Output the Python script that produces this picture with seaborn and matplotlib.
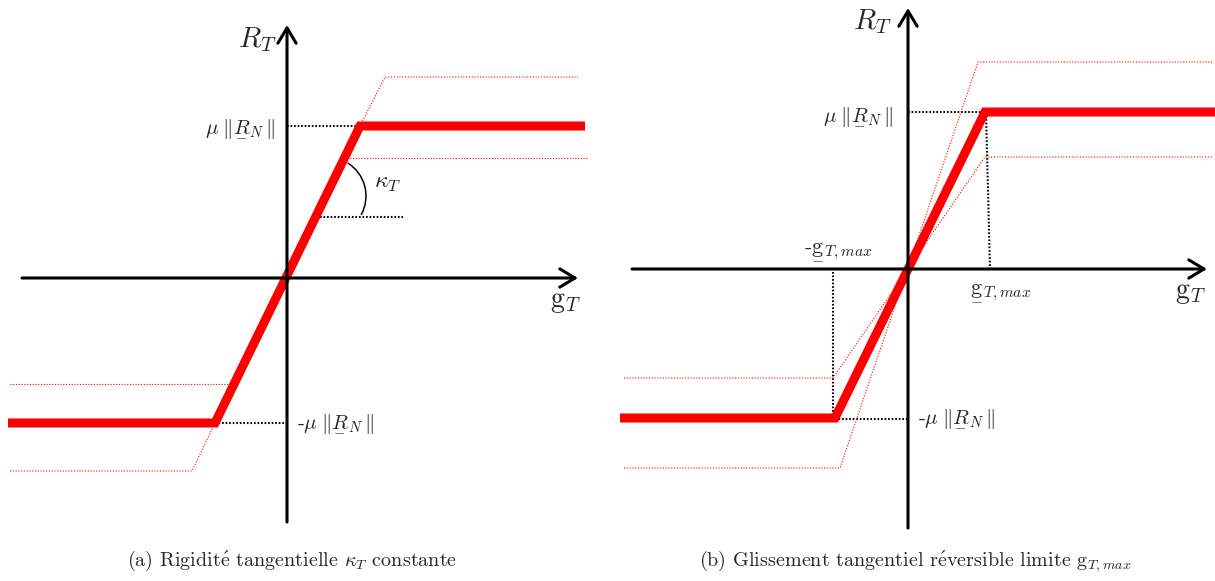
"""
Tangential contact laws: constant stiffness vs. limited reversible slip.
"""
import matplotlib
matplotlib.use("Agg")
import matplotlib.pyplot as plt
from matplotlib.patches import Arc
import seaborn as sns

sns.set_theme(style="white")
plt.rcParams["font.family"] = ["cmr10", "DejaVu Serif"]
plt.rcParams["mathtext.fontset"] = "cm"
plt.rcParams["axes.unicode_minus"] = False
plt.rcParams["axes.formatter.use_mathtext"] = True

# ---- panel (a): constant tangential stiffness (units = px from origin) ----
a_axis_x = [-265, 291]
a_axis_y = [-244, 253]
a_law_x = [-279, -72, 73, 298]
a_law_y = [-145, -145, 152, 152]
a_hi_up_x = [73, 98, 291]
a_hi_up_y = [152, 201, 201]
a_hi_lo_x = [60, 301]
a_hi_lo_y = [120, 120]
a_lo_up_x = [-277, -54]
a_lo_up_y = [-106, -106]
a_lo_lo_x = [-277, -95, -72]
a_lo_lo_y = [-193, -193, -145]
a_ref_x = [[0, 73], [-72, 0], [33, 118]]
a_ref_y = [[152, 152], [-145, -145], [61, 61]]
a_arc_center = (40, 82)
a_arc_radius = 39
a_arc_angles = (-29, 58)

# ---- panel (b): limited reversible slip ----
b_axis_x = [-276, 299]
b_axis_y = [-259, 261]
b_law_x = [-288, -73, 77, 307]
b_law_y = [-149, -149, 157, 157]
b_steep_x = [-284, -68, 70, 305]
b_steep_y = [-199, -199, 207, 207]
b_soft_x = [-284, -75, 77, 305]
b_soft_y = [-109, -109, 112, 112]
b_ref_x = [[0, 77], [78, 82], [-75, -75], [-73, 0]]
b_ref_y = [[157, 157], [157, 0], [-3, -149], [-150, -150]]

RED = "#ff0000"
THIN = dict(color=RED, lw=0.8, linestyle=(0, (1, 1.5)))
REF = dict(color="black", lw=1.5, linestyle=(0, (0.8, 0.9)))

MU_RN = r"$\mu\;\Vert\underset{-}{R}_N\,\Vert$"
G_MAX = r"$\underset{-}{\mathrm{g}}_{T,max}$"
E_ACUTE = r"$\mathrm{\acute{e}}$"


def _line(ax, x, y, **kw):
    sns.lineplot(x=x, y=y, sort=False, estimator=None, ax=ax, **kw)


def _axes_arrows(ax, ax_x, ax_y):
    props = dict(arrowstyle="->,head_length=0.55,head_width=0.33",
                 lw=2.2, color="black", shrinkA=0, shrinkB=0,
                 mutation_scale=20)
    ax.annotate("", xy=(ax_x[1], 0), xytext=(ax_x[0], 0), arrowprops=props)
    ax.annotate("", xy=(0, ax_y[1]), xytext=(0, ax_y[0]), arrowprops=props)


fig = plt.figure(figsize=(12.15, 5.81), dpi=100)
H = 581.0
ax_a = fig.add_axes([0, 41 / H, 600 / 1215, 540 / H])
ax_b = fig.add_axes([605 / 1215, 41 / H, 610 / 1215, 540 / H])
ax_a.set_xlim(-287, 313)
ax_a.set_ylim(-262, 278)
ax_b.set_xlim(-303, 307)
ax_b.set_ylim(-271, 269)

# panel (a)
_axes_arrows(ax_a, a_axis_x, a_axis_y)
for xs, ys in zip(a_ref_x, a_ref_y):
    _line(ax_a, xs, ys, **REF)
for xs, ys in [(a_hi_up_x, a_hi_up_y), (a_hi_lo_x, a_hi_lo_y),
               (a_lo_up_x, a_lo_up_y), (a_lo_lo_x, a_lo_lo_y)]:
    _line(ax_a, xs, ys, **THIN)
_line(ax_a, a_law_x, a_law_y, color=RED, lw=6.5,
      solid_joinstyle="miter", solid_capstyle="butt")
ax_a.add_patch(Arc(a_arc_center, 2 * a_arc_radius, 2 * a_arc_radius,
                   theta1=a_arc_angles[0], theta2=a_arc_angles[1],
                   color="black", lw=1.1))
ax_a.text(-30, 238, r"$R_T$", fontsize=21, ha="center", va="center")
ax_a.text(278, -24, r"$\mathrm{g}_T$", fontsize=20, ha="center", va="center")
ax_a.text(-12, 150, MU_RN, fontsize=15, ha="right", va="center")
ax_a.text(10, -145, "-" + MU_RN, fontsize=15, ha="left", va="center")
ax_a.text(101, 95, r"$\kappa_T$", fontsize=17, ha="center", va="center")

# panel (b)
_axes_arrows(ax_b, b_axis_x, b_axis_y)
for xs, ys in zip(b_ref_x, b_ref_y):
    _line(ax_b, xs, ys, **REF)
for xs, ys in [(b_steep_x, b_steep_y), (b_soft_x, b_soft_y)]:
    _line(ax_b, xs, ys, **THIN)
_line(ax_b, b_law_x, b_law_y, color=RED, lw=6.5,
      solid_joinstyle="miter", solid_capstyle="butt")
ax_b.text(-36, 247, r"$R_T$", fontsize=21, ha="center", va="center")
ax_b.text(282, -24, r"$\mathrm{g}_T$", fontsize=20, ha="center", va="center")
ax_b.text(-15, 153, MU_RN, fontsize=15, ha="right", va="center")
ax_b.text(10, -149, "-" + MU_RN, fontsize=15, ha="left", va="center")
ax_b.text(-70, 18, "-" + G_MAX, fontsize=16, ha="center", va="center")
ax_b.text(93, -23, G_MAX, fontsize=16, ha="center", va="center")

for ax in (ax_a, ax_b):
    ax.set_axis_off()

fig.text(292 / 1215, 1 - 561 / H,
         "(a) Rigidit" + E_ACUTE + r" tangentielle $\kappa_T$ constante",
         fontsize=14.5, ha="center", va="center")
fig.text(915 / 1215, 1 - 561 / H,
         "(b) Glissement tangentiel r" + E_ACUTE
         + r"versible limite $\mathrm{g}_{T,max}$",
         fontsize=14.5, ha="center", va="center")

fig.savefig("out.png", dpi=100)
plt.close(fig)
